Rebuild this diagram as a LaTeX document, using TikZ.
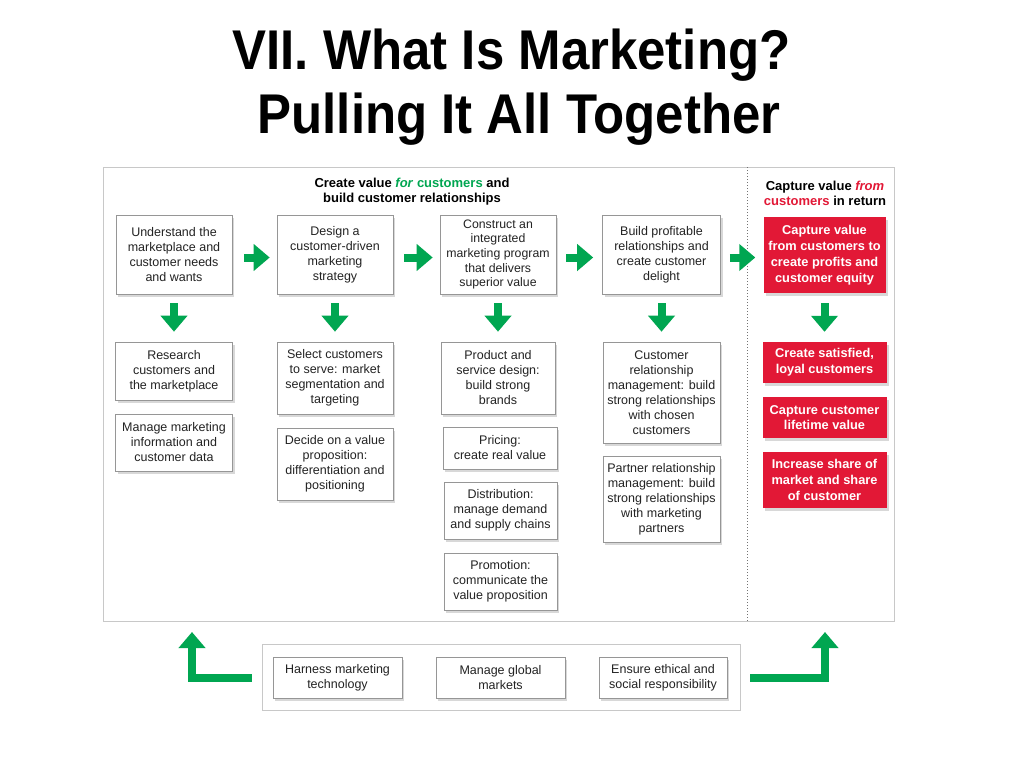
\documentclass[tikz,border=0pt]{standalone}
\usepackage{fontspec}
\setmainfont{Liberation Sans}
\newfontfamily\titlefont[FakeStretch=0.91]{Liberation Sans}
\usetikzlibrary{arrows.meta,shadows}
\definecolor{ggreen}{RGB}{0,166,81}
\definecolor{rred}{RGB}{226,24,54}
\definecolor{boxline}{RGB}{150,150,150}
\definecolor{frameline}{RGB}{200,200,200}
\definecolor{txt}{RGB}{35,35,35}
\begin{document}
\begin{tikzpicture}[x=1pt,y=-1pt,
  sz/.style 2 args={minimum width=#1pt, minimum height=#2pt},
  box/.style={draw=boxline, line width=0.6pt, fill=white, inner sep=0pt, align=center, text=txt,
    font=\fontsize{12.5}{15}\selectfont,
    drop shadow={shadow xshift=2pt, shadow yshift=-3pt, opacity=0.3}},
  redbox/.style={fill=rred, inner sep=0pt, align=center, text=white,
    font=\fontsize{12.8}{15.8}\selectfont\bfseries,
    drop shadow={shadow xshift=2pt, shadow yshift=-3pt, opacity=0.3}},
  hdr/.style={align=center, font=\fontsize{13}{15}\selectfont\bfseries, text=black, inner sep=0pt},
  ttl/.style={anchor=base, font=\titlefont\fontsize{56}{60}\selectfont\bfseries, inner sep=0pt},
  garrow/.style={draw=ggreen, line width=8pt, -{Triangle[length=16pt,width=26pt]}},
  frm/.style={draw=frameline, line width=0.8pt, fill=white, inner sep=0pt}
]
\fill[white] (0,0) rectangle (1024,768);
\useasboundingbox (0,0) rectangle (1024,768);

% title
\node[ttl] (t1) at (511.5,70) {VII. What Is Marketing?};
\node[ttl] (t2) at (519,133) {Pulling It All Together};

% frames
\node[frm, sz={791}{454}] (frame1) at (498.5,394) {};
\draw[black!55, line width=1pt, dotted] (747,167) coordinate (dtop) -- (747,621) coordinate (dbot);
\node[frm, sz={478}{66}] (frame2) at (501,677) {};

% headers
\node[hdr] (h1) at (412,192) {Create value \textcolor{ggreen}{\textit{for} customers} and\\build customer relationships};
\node[hdr] (h2) at (825,193) {Capture value \textcolor{rred}{\textit{from}}\\\textcolor{rred}{customers} in return};

% row 1
\node[box, sz={116}{79}] (b1) at (174,254.5) {Understand the\\marketplace and\\customer needs\\and wants};
\node[box, sz={116}{79}] (b2) at (335,254.5) {Design a\\customer-driven\\marketing\\strategy};
\node[box, sz={116}{79}, font=\fontsize{12.3}{14.6}\selectfont] (b3) at (498,254.5) {Construct an\\integrated\\marketing program\\that delivers\\superior value};
\node[box, sz={118}{79}] (b4) at (661.5,254.5) {Build profitable\\relationships and\\create customer\\delight};
\node[redbox, sz={122}{76}] (r1) at (824.5,255) {Capture value\\from customers to\\create profits and\\customer equity};

% row 2
\node[box, sz={117}{58}] (c1a) at (174,371) {Research\\customers and\\the marketplace};
\node[box, sz={117}{57}] (c1b) at (174,442.5) {Manage marketing\\information and\\customer data};
\node[box, sz={116}{72}] (c2a) at (335,378) {Select customers\\to serve: market\\segmentation and\\targeting};
\node[box, sz={116}{72}] (c2b) at (335,464) {Decide on a value\\proposition:\\differentiation and\\positioning};
\node[box, sz={114}{72}] (c3a) at (498,378) {Product and\\service design:\\build strong\\brands};
\node[box, sz={114}{42}] (c3b) at (500,448) {Pricing:\\create real value};
\node[box, sz={113}{57}] (c3c) at (500.5,510.5) {Distribution:\\manage demand\\and supply chains};
\node[box, sz={113}{57}] (c3d) at (500.5,581.5) {Promotion:\\communicate the\\value proposition};
\node[box, sz={117}{101}] (c4a) at (661.5,392.5) {Customer\\relationship\\management: build\\strong relationships\\with chosen\\customers};
\node[box, sz={117}{86}] (c4b) at (661.5,499) {Partner relationship\\management: build\\strong relationships\\with marketing\\partners};
\node[redbox, sz={124}{41}] (r2) at (824.5,362.5) {Create satisfied,\\loyal customers};
\node[redbox, sz={124}{41}] (r3) at (824.5,417.5) {Capture customer\\lifetime value};
\node[redbox, sz={124}{56}] (r4) at (824.5,480) {Increase share of\\market and share\\of customer};

% bottom
\node[box, sz={129}{41}] (d1) at (337.5,677.5) {Harness marketing\\technology};
\node[box, sz={129}{41}] (d2) at (500.5,677.5) {Manage global\\markets};
\node[box, sz={128}{41}] (d3) at (663,677.5) {Ensure ethical and\\social responsibility};

% horizontal arrows
\draw[garrow, shorten <=12pt, shorten >=7pt] (b1.east) ++(0,3) coordinate (a1s) -- (a1s -| b2.west);
\draw[garrow, shorten <=11pt, shorten >=7pt] (b2.east) ++(0,3) coordinate (a2s) -- (a2s -| b3.west);
\draw[garrow, shorten <=10pt, shorten >=9pt] (b3.east) ++(0,3) coordinate (a3s) -- (a3s -| b4.west);
\draw[garrow, shorten <=9pt, shorten >=8pt] (b4.east) ++(0,3) coordinate (a4s) -- (a4s -| r1.west);

% down arrows
\draw[garrow, shorten <=9pt, shorten >=10pt] (b1.south) -- (c1a.north);
\draw[garrow, shorten <=9pt, shorten >=10pt] (b2.south) -- (c2a.north);
\draw[garrow, shorten <=9pt, shorten >=10pt] (b3.south) -- (c3a.north);
\draw[garrow, shorten <=9pt, shorten >=10pt] (b4.south) -- (c4a.north);
\draw[garrow, shorten <=10pt, shorten >=10pt] (r1.south) -- (r2.north);

% L arrows
\coordinate (lup) at (192,632);
\coordinate (rup) at (825,632);
\draw[garrow, shorten <=10pt] (frame2.west |- d1.center) -| (lup);
\draw[garrow, shorten <=10pt] (frame2.east |- d3.center) -| (rup);
\end{tikzpicture}
\end{document}
